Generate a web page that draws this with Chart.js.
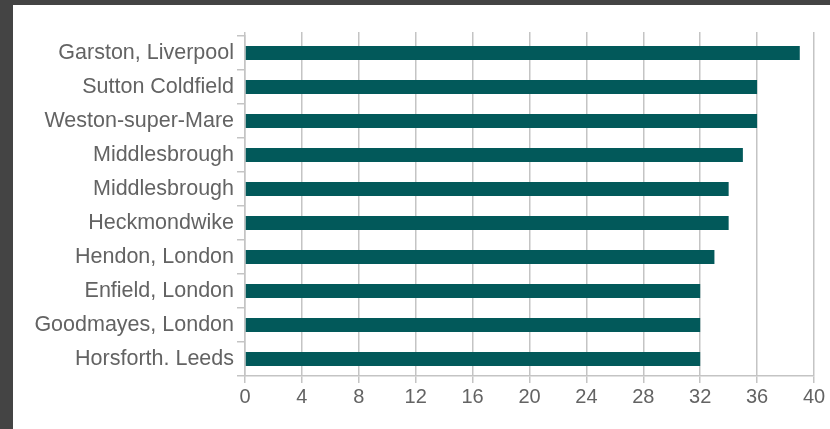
<!DOCTYPE html>
<html>
<head>
<meta charset="utf-8">
<script src="https://cdn.jsdelivr.net/npm/chart.js@4"></script>
<style>
  html, body { margin: 0; padding: 0; background: #444444; width: 830px; height: 429px; overflow: hidden; }
  #panel { position: absolute; left: 13px; top: 5px; width: 817px; height: 424px; background: #ffffff; }
</style>
</head>
<body>
<div id="panel"><canvas id="bar-chart"></canvas></div>
<script>
const places = ['Garston, Liverpool', 'Sutton Coldfield', 'Weston-super-Mare', 'Middlesbrough', 'Middlesbrough',
    'Heckmondwike', 'Hendon, London', 'Enfield, London', 'Goodmayes, London', 'Horsforth. Leeds'];
const values = [39, 36, 36, 35, 34, 34, 33, 32, 32, 32];
const xTicks = [0, 4, 8, 12, 16, 20, 24, 28, 32, 36, 40];

const data = {
    labels: places,
    datasets: [
        {
            data: values,
            backgroundColor: "#02595a",
            borderWidth: 0,
            barPercentage: 0.41,
            categoryPercentage: 1
        }
    ]
};

const gridColor = '#c4c4c4';

const configBar = {
    type: 'bar',
    data: data,
    options: {
        indexAxis: 'y',
        responsive: false,
        animation: false,
        layout: { padding: { left: 0, right: 16, top: 27, bottom: 0 } },
        plugins: { legend: { display: false }, tooltip: { enabled: false } },
        scales: {
            x: {
                min: 0,
                max: 40,
                afterBuildTicks: (scale) => { scale.ticks = xTicks.map(v => ({ value: v })); },
                afterFit: (scale) => { scale.height = 53; },
                grid: { color: gridColor, lineWidth: 1.5, tickLength: 7 },
                border: { color: gridColor, width: 1.5 },
                ticks: { color: '#636363', font: { family: 'Liberation Sans', size: 20 }, padding: 2 }
            },
            // top stubs: grid lines poke a little above the plot
            xTop: {
                position: 'top',
                min: 0,
                max: 40,
                afterBuildTicks: (scale) => { scale.ticks = xTicks.map(v => ({ value: v })); },
                afterFit: (scale) => { scale.height = 4; },
                grid: { drawOnChartArea: false, color: gridColor, lineWidth: 1.5, tickLength: 4 },
                border: { display: false },
                ticks: { display: false }
            },
            y: {
                afterFit: (scale) => { scale.width = 232; },
                grid: { drawOnChartArea: false, color: gridColor, lineWidth: 1.5, tickLength: 8, offset: true },
                border: { color: gridColor, width: 1.5 },
                ticks: { color: '#636363', font: { family: 'Liberation Sans', size: 21.5 }, padding: 3 }
            }
        }
    }
};

const barChart = document.querySelector('#bar-chart');
barChart.width = 817;
barChart.height = 424;
if(barChart) {
    const barChartOb = new Chart(barChart, configBar);
}
</script>
</body>
</html>
